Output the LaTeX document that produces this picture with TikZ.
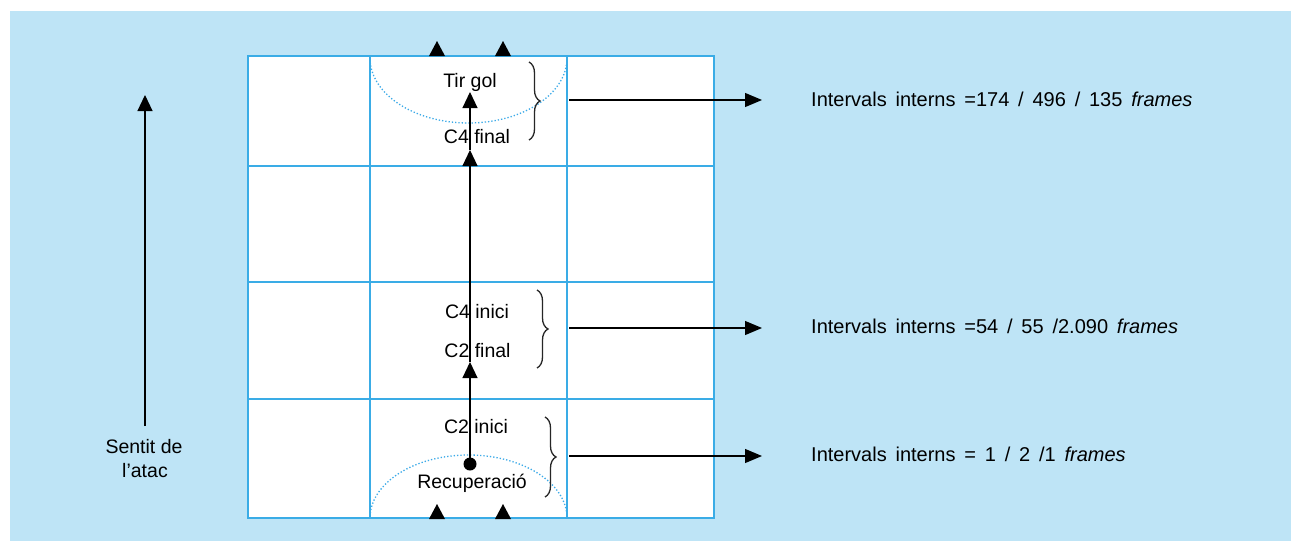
\documentclass[tikz,border=0pt]{standalone}
\usepackage{fontspec}
\setmainfont{Liberation Sans}
\usetikzlibrary{arrows.meta,decorations.pathreplacing}
\definecolor{bgblue}{RGB}{190,228,246}
\definecolor{gridblue}{RGB}{58,172,230}
\definecolor{dotblue}{RGB}{60,170,232}
\newcommand\myrspace{\spaceskip=8.8pt\relax}
\begin{document}
\begin{tikzpicture}[x=1pt,y=1pt,
  gridline/.style={draw=gridblue,line width=1.5pt},
  zone/.style={draw=dotblue,line width=1.3pt,dotted},
  lbl/.style={font=\fontsize{19.5}{22}\selectfont,inner sep=0pt,anchor=base},
  rlbl/.style={font=\fontsize{20}{22}\selectfont,inner sep=0pt,anchor=base west},
  flow/.style={draw=black,line width=1.15pt,-{Triangle[width=15pt,length=16pt]}},
  lead/.style={draw=black,line width=1.2pt,-{Triangle[width=14pt,length=17pt]}},
  bracestyle/.style={draw=black!85,line width=1.3pt,decorate,decoration={brace,amplitude=11pt}}]
\useasboundingbox (0,0) rectangle (1291,-541);
\fill[white] (0,0) rectangle (1291,-541);
\fill[bgblue] (10,-11) rectangle (1291,-541);
% grid
\fill[white] (248,-56) rectangle (714,-518);
\draw[gridline] (248,-56) rectangle (714,-518);
\draw[gridline] (370,-56) -- (370,-518);
\draw[gridline] (567,-56) -- (567,-518);
\draw[gridline] (248,-166) -- (714,-166);
\draw[gridline] (248,-282) -- (714,-282);
\draw[gridline] (248,-399) -- (714,-399);
% zones
\draw[zone] (567,-58) arc (0:-180:98.5 and 65);
\draw[zone] (567,-518) arc (0:180:98.5 and 63);
% edge arrowheads
\coordinate (t1b) at (437,-41);
\coordinate (t2b) at (503,-41);
\coordinate (b1b) at (437,-504);
\coordinate (b2b) at (503,-504);
\fill (t1b) -- ++(-8,-15) -- ++(16,0) -- cycle;
\fill (t2b) -- ++(-8,-15) -- ++(16,0) -- cycle;
\fill (b1b) -- ++(-8,-15) -- ++(16,0) -- cycle;
\fill (b2b) -- ++(-8,-15) -- ++(16,0) -- cycle;
% labels in the grid
\node[lbl] (tir) at (470,-87) {Tir gol};
\node[lbl] (c4f) at (477,-143) {C4 final};
\node[lbl] (c4i) at (477,-318) {C4 inici};
\node[lbl] (c2f) at (477.5,-357) {C2 final};
\node[lbl] (c2i) at (476,-433) {C2 inici};
\node[lbl] (rec) at (472,-488) {Recuperació};
% main flow
\node[circle,fill=black,inner sep=0pt,minimum size=13pt] (dot) at (470,-464) {};
\coordinate (p1) at (470,-362);
\coordinate (p2) at (470,-150);
\coordinate (p3) at (470,-92);
\draw[flow] (dot.center) -- (p1);
\draw[flow] (p1) -- (p2);
\draw[flow] (p2) -- (p3);
% braces
\draw[bracestyle] (529,-62) -- (529,-140);
\draw[bracestyle] (537,-290) -- (537,-368);
\draw[bracestyle] (545,-417) -- (545,-497);
\coordinate (s1) at (569,-100); \coordinate (e1) at (762,-100);
\coordinate (s2) at (569,-328); \coordinate (e2) at (762,-328);
\coordinate (s3) at (569,-456); \coordinate (e3) at (762,-456);
\draw[lead] (s1) -- (e1);
\draw[lead] (s2) -- (e2);
\draw[lead] (s3) -- (e3);
\node[rlbl] (r1) at (811,-106) {\myrspace Intervals interns =174 / 496 / 135 \textit{frames}};
\node[rlbl] (r2) at (811,-333) {\myrspace Intervals interns =54 / 55 /2.090 \textit{frames}};
\node[rlbl] (r3) at (811,-461) {\myrspace Intervals interns = 1 / 2 /1 \textit{frames}};
% direction of attack
\coordinate (a0) at (145,-426);
\coordinate (a1) at (145,-95);
\draw[flow] (a0) -- (a1);
\node[lbl] (sen1) at (144,-453) {Sentit de};
\node[lbl] (sen2) at (145,-477) {l’atac};
\end{tikzpicture}
\end{document}
